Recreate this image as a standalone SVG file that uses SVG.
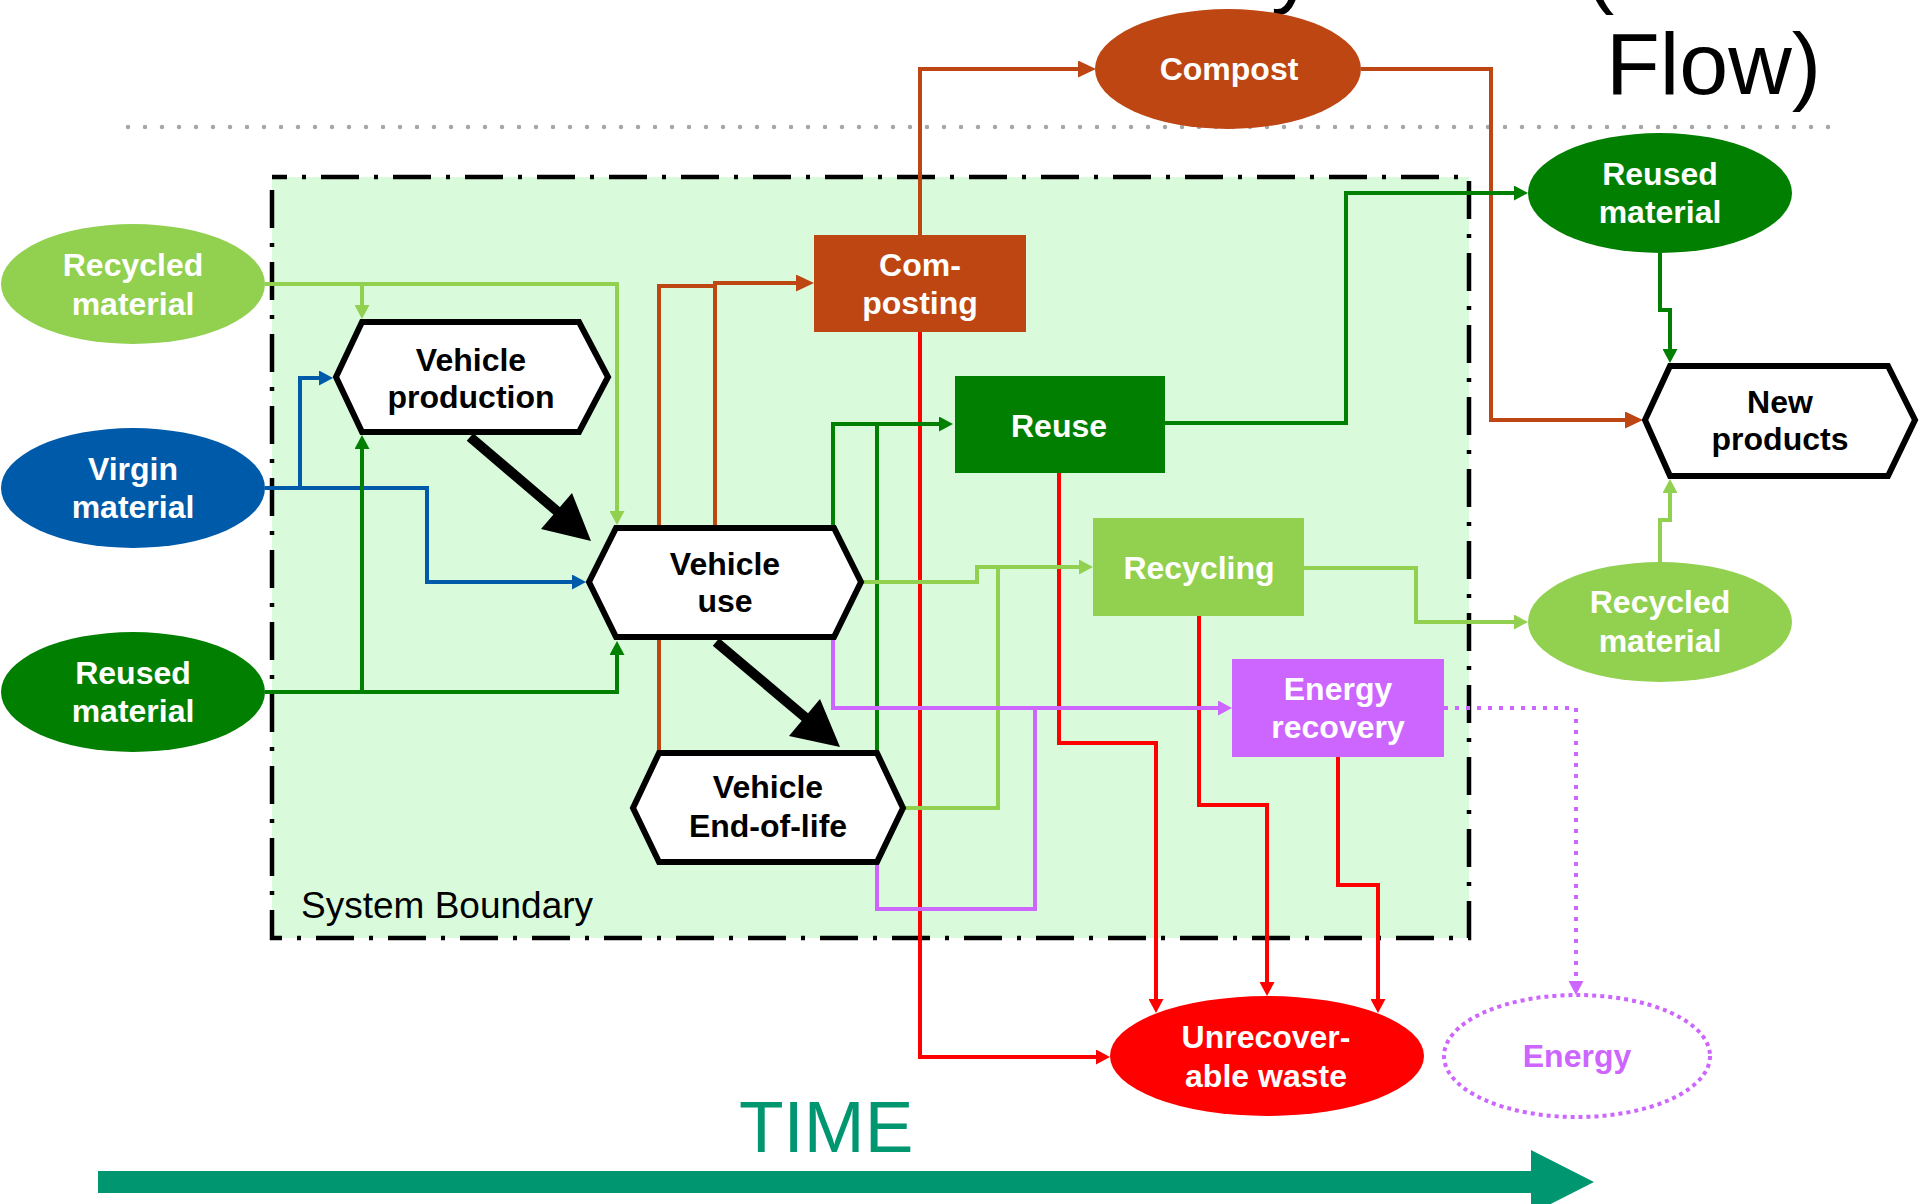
<svg xmlns="http://www.w3.org/2000/svg" width="1920" height="1204" viewBox="0 0 1920 1204">
<style>
text{font-family:"Liberation Sans",Arial,sans-serif}
.lbl{font-weight:bold;font-size:32px;text-anchor:middle;fill:#fff}
.blk{font-weight:bold;font-size:32px;text-anchor:middle;fill:#000}
.hex{fill:#fff;stroke:#000;stroke-width:6;stroke-linejoin:miter}
.c{fill:none;stroke-width:4;stroke-linejoin:miter}
.lg{stroke:#92d050}.dg{stroke:#007f00}.bl{stroke:#005aaa}.or{stroke:#be4613}.rd{stroke:#ff0000}.pu{stroke:#cc66ff}
</style>
<defs>
<marker id="mlg" markerUnits="userSpaceOnUse" markerWidth="14" markerHeight="15" refX="10" refY="7.5" orient="auto"><path d="M0,0L14,7.5L0,15z" fill="#92d050"/></marker>
<marker id="mdg" markerUnits="userSpaceOnUse" markerWidth="14" markerHeight="15" refX="10" refY="7.5" orient="auto"><path d="M0,0L14,7.5L0,15z" fill="#007f00"/></marker>
<marker id="mbl" markerUnits="userSpaceOnUse" markerWidth="14" markerHeight="15" refX="10" refY="7.5" orient="auto"><path d="M0,0L14,7.5L0,15z" fill="#005aaa"/></marker>
<marker id="mor" markerUnits="userSpaceOnUse" markerWidth="18" markerHeight="17" refX="14" refY="8.5" orient="auto"><path d="M0,0L18,8.5L0,17z" fill="#be4613"/></marker>
<marker id="mrd" markerUnits="userSpaceOnUse" markerWidth="14" markerHeight="15" refX="10" refY="7.5" orient="auto"><path d="M0,0L14,7.5L0,15z" fill="#ff0000"/></marker>
<marker id="mpu" markerUnits="userSpaceOnUse" markerWidth="14" markerHeight="15" refX="10" refY="7.5" orient="auto"><path d="M0,0L14,7.5L0,15z" fill="#cc66ff"/></marker>
</defs>
<rect width="1920" height="1204" fill="#fff"/>

<!-- title fragments (cut off at the top edge, as in the picture) -->
<g id="title" font-size="88" fill="#000">
<text x="1271" y="-3">y</text>
<text x="1585" y="-3">(</text>
<text x="1606" y="94">Flow)</text>
</g>

<line x1="128" y1="127" x2="1830" y2="127" stroke="#a6a6a6" stroke-width="4.5" stroke-linecap="round" stroke-dasharray="0 17"/>

<g id="system-boundary">
<rect x="272" y="177" width="1197" height="761" fill="#d9fbdc"/>
<path d="M272,177H1469V938H272Z" fill="none" stroke="#000" stroke-width="4.5" stroke-dasharray="38 15 4 15" stroke-dashoffset="23"/>
<text x="301" y="918" font-size="37" fill="#000">System Boundary</text>
</g>

<g id="connectors">
<path class="c or" d="M659,753V286H716"/>
<path class="c or" d="M715,528V283H810" marker-end="url(#mor)"/>
<path class="c or" d="M920,235V69H1092" marker-end="url(#mor)"/>
<path class="c or" d="M1361,69H1491V420H1639" marker-end="url(#mor)"/>
<path class="c rd" d="M920,332V1057H1106" marker-end="url(#mrd)"/>
<path class="c rd" d="M1059,473V743H1156V1009" marker-end="url(#mrd)"/>
<path class="c rd" d="M1199,616V805H1267V992" marker-end="url(#mrd)"/>
<path class="c rd" d="M1338,757V885H1378V1009" marker-end="url(#mrd)"/>
<path class="c lg" d="M265,284H617V521" marker-end="url(#mlg)"/>
<path class="c lg" d="M362,284V315" marker-end="url(#mlg)"/>
<path class="c bl" d="M265,488H427V582H582" marker-end="url(#mbl)"/>
<path class="c bl" d="M300,488V378H329" marker-end="url(#mbl)"/>
<path class="c dg" d="M265,692H617V645" marker-end="url(#mdg)"/>
<path class="c dg" d="M362,692V439" marker-end="url(#mdg)"/>
<path class="c dg" d="M833,528V424H949" marker-end="url(#mdg)"/>
<path class="c dg" d="M877,753V424"/>
<path class="c dg" d="M1165,423H1346V193H1524" marker-end="url(#mdg)"/>
<path class="c dg" d="M1660,253V310H1670V359" marker-end="url(#mdg)"/>
<path class="c lg" d="M862,582H977V567H1089" marker-end="url(#mlg)"/>
<path class="c lg" d="M903,808H998V567"/>
<path class="c lg" d="M1304,568H1416V622H1524" marker-end="url(#mlg)"/>
<path class="c lg" d="M1660,562V520H1670V483" marker-end="url(#mlg)"/>
<path class="c pu" d="M833,640V708H1228" marker-end="url(#mpu)"/>
<path class="c pu" d="M877,862V909H1035V708"/>
<path class="c pu" d="M1444,708H1576V991" stroke-dasharray="4 7" marker-end="url(#mpu)"/>
<!-- thick black flow arrows -->
<line x1="470" y1="437" x2="558" y2="512" stroke="#000" stroke-width="10"/>
<polygon points="591,541 572,493 541,529" fill="#000"/>
<line x1="716" y1="642" x2="806" y2="718" stroke="#000" stroke-width="10"/>
<polygon points="840,747 820,699 789,736" fill="#000"/>
</g>

<g id="recycled-material-in"><ellipse cx="133" cy="284" rx="132" ry="60" fill="#92d050"/><text class="lbl" x="133" y="276">Recycled</text><text class="lbl" x="133" y="315">material</text></g>
<g id="virgin-material"><ellipse cx="133" cy="488" rx="132" ry="60" fill="#005aaa"/><text class="lbl" x="133" y="480">Virgin</text><text class="lbl" x="133" y="518">material</text></g>
<g id="reused-material-in"><ellipse cx="133" cy="692" rx="132" ry="60" fill="#007f00"/><text class="lbl" x="133" y="684">Reused</text><text class="lbl" x="133" y="722">material</text></g>

<g id="vehicle-production"><polygon class="hex" points="362,322 579,322 608,377 579,432 362,432 336,377"/><text class="blk" x="471" y="371">Vehicle</text><text class="blk" x="471" y="408">production</text></g>
<g id="vehicle-use"><polygon class="hex" points="616,528 834,528 861,582 834,637 616,637 589,582"/><text class="blk" x="725" y="575">Vehicle</text><text class="blk" x="725" y="612">use</text></g>
<g id="vehicle-eol"><polygon class="hex" points="659,753 877,753 903,808 877,862 659,862 633,808"/><text class="blk" x="768" y="798">Vehicle</text><text class="blk" x="768" y="837">End-of-life</text></g>

<g id="composting"><rect x="814" y="235" width="212" height="97" fill="#be4613"/><text class="lbl" x="920" y="276">Com-</text><text class="lbl" x="920" y="314">posting</text></g>
<g id="reuse"><rect x="955" y="376" width="210" height="97" fill="#007f00"/><text class="lbl" x="1059" y="437">Reuse</text></g>
<g id="recycling"><rect x="1093" y="518" width="211" height="98" fill="#92d050"/><text class="lbl" x="1199" y="579">Recycling</text></g>
<g id="energy-recovery"><rect x="1232" y="659" width="212" height="98" fill="#cc66ff"/><text class="lbl" x="1338" y="700">Energy</text><text class="lbl" x="1338" y="738">recovery</text></g>

<g id="compost"><ellipse cx="1228" cy="69" rx="133" ry="60" fill="#be4613"/><text class="lbl" x="1229" y="80">Compost</text></g>
<g id="reused-material-out"><ellipse cx="1660" cy="193" rx="132" ry="60" fill="#007f00"/><text class="lbl" x="1660" y="185">Reused</text><text class="lbl" x="1660" y="223">material</text></g>
<g id="new-products"><polygon class="hex" points="1670,366 1888,366 1915,420 1888,476 1670,476 1645,420"/><text class="blk" x="1780" y="413">New</text><text class="blk" x="1780" y="450">products</text></g>
<g id="recycled-material-out"><ellipse cx="1660" cy="622" rx="132" ry="60" fill="#92d050"/><text class="lbl" x="1660" y="613">Recycled</text><text class="lbl" x="1660" y="652">material</text></g>
<g id="unrecoverable-waste"><ellipse cx="1267" cy="1056" rx="157" ry="60" fill="#ff0000"/><text class="lbl" x="1266" y="1048">Unrecover-</text><text class="lbl" x="1266" y="1087">able waste</text></g>
<g id="energy"><ellipse cx="1577" cy="1056" rx="133" ry="61" fill="#fff" stroke="#cc66ff" stroke-width="4" stroke-dasharray="4 4"/><text class="lbl" x="1577" y="1067" style="fill:#cc66ff">Energy</text></g>

<g id="time">
<text x="739" y="1152" font-size="73" fill="#009670">TIME</text>
<polygon points="98,1171 1531,1171 1531,1150 1594,1182 1531,1214 1531,1193 98,1193" fill="#009670"/>
</g>
</svg>
